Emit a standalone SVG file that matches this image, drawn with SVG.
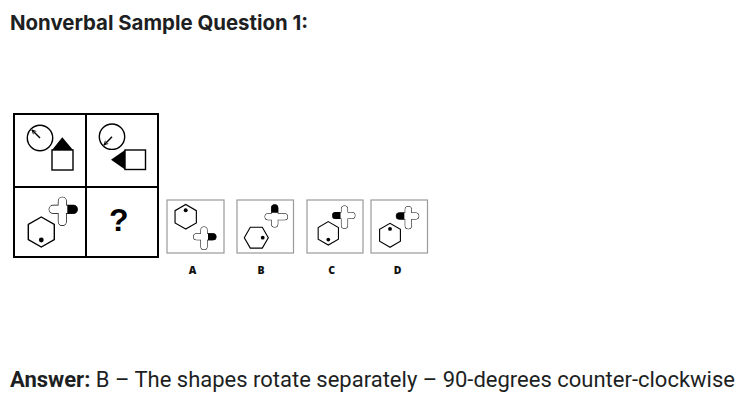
<svg xmlns="http://www.w3.org/2000/svg" width="750" height="406" viewBox="0 0 750 406">
<style>
.title{font-family:Inter,"Liberation Sans",sans-serif;font-weight:700;font-size:20.4px;fill:#1d1f23}
.ans{font-family:Roboto,"Liberation Sans",sans-serif;font-size:22px;fill:#1d1f23}
.lbl{font-family:"Open Sans","Liberation Sans",sans-serif;font-weight:800;font-size:10.5px;fill:#111}
.grid{fill:none;stroke:#000;stroke-width:2}
.opt{fill:#fff;stroke:#9a9a9a;stroke-width:1.2}
.ln{fill:none;stroke:#000;stroke-width:1.4}
.cl{fill:none;stroke:#000;stroke-width:1.3}
.wf{fill:#fff;stroke:none}
.blk{fill:#000;stroke:none}
</style>
<defs>
<marker id="ah" viewBox="0 0 10 10" refX="9" refY="5" markerWidth="5" markerHeight="5" orient="auto" markerUnits="userSpaceOnUse">
<path d="M1,1 L9,5 L1,9" fill="none" stroke="#000" stroke-width="1.6"/>
</marker>
<g id="cross">
<rect x="-3.8" y="-12" width="7.6" height="28" rx="3.8" class="cl"/>
<rect x="-13" y="-3.8" width="28" height="7.6" rx="3.8" class="cl"/>
<rect x="-3.8" y="-12" width="7.6" height="28" rx="3.8" class="wf"/>
<rect x="-13" y="-3.8" width="28" height="7.6" rx="3.8" class="wf"/>
<path d="M5,-4.4 H10.9 A4.4,4.4 0 0 1 10.9,4.4 H5 Z" class="blk"/>
</g>
<g id="hex">
<polygon points="0,-15 13,-7.5 13,7.5 0,15 -13,7.5 -13,-7.5" class="ln" fill="#fff"/>
<circle cx="0" cy="8" r="2.4" class="blk"/>
</g>
</defs>
<rect width="750" height="406" fill="#fff"/>
<text class="title" x="10" y="30">Nonverbal Sample Question 1:</text>

<g id="grid">
<rect x="14" y="114" width="144" height="143" class="grid"/>
<line x1="86" y1="114" x2="86" y2="257" class="grid"/>
<line x1="14" y1="187" x2="158" y2="187" class="grid"/>
</g>

<g id="cell1">
<circle cx="40" cy="138" r="12.7" class="ln"/>
<line x1="40" y1="138" x2="32" y2="130" class="ln" stroke-width="1.2" marker-end="url(#ah)"/>
<polygon points="62.3,137.3 73,150 52,150" class="blk"/>
<rect x="52" y="150" width="21" height="20" class="ln"/>
</g>

<g id="cell2">
<circle cx="112" cy="136.7" r="12.7" class="ln"/>
<line x1="112" y1="136.7" x2="104" y2="145" class="ln" stroke-width="1.2" marker-end="url(#ah)"/>
<polygon points="111,159.7 125,150 125,169.5" class="blk"/>
<rect x="125" y="150" width="20.5" height="19.5" class="ln"/>
</g>

<g id="cell3">
<use href="#hex" transform="translate(41.3,232)"/>
<use href="#cross" transform="translate(62.3,209.3)"/>
</g>

<g id="cell4">
<text x="118.7" y="231" text-anchor="middle" font-family="'Liberation Sans',Arial,sans-serif" font-weight="700" font-size="32" fill="#000">?</text>
</g>

<g id="optA">
<rect x="167" y="200" width="57" height="53" class="opt"/>
<use href="#hex" transform="translate(185.7,216.8) scale(0.82) rotate(180)"/>
<use href="#cross" transform="translate(204,236.7) scale(0.8)"/>
<text class="lbl" x="192.5" y="274" text-anchor="middle">A</text>
</g>

<g id="optB">
<rect x="237" y="200" width="56.5" height="53" class="opt"/>
<use href="#cross" transform="translate(274.7,216.7) scale(0.8) rotate(-90)"/>
<use href="#hex" transform="translate(256.3,237.7) scale(0.8) rotate(-90)"/>
<text class="lbl" x="261" y="274" text-anchor="middle">B</text>
</g>

<g id="optC">
<rect x="307" y="200" width="56" height="53" class="opt"/>
<use href="#cross" transform="translate(344.5,215.5) scale(-0.8,0.8)"/>
<use href="#hex" transform="translate(328.3,233.3) scale(0.78)"/>
<text class="lbl" x="331.7" y="274" text-anchor="middle">C</text>
</g>

<g id="optD">
<rect x="371" y="200" width="56.5" height="53" class="opt"/>
<use href="#cross" transform="translate(408.3,216) scale(-0.8,0.8)"/>
<use href="#hex" transform="translate(390,235.3) scale(0.8) rotate(180)"/>
<text class="lbl" x="397.7" y="274" text-anchor="middle">D</text>
</g>

<text class="ans" x="10" y="387" textLength="725" lengthAdjust="spacingAndGlyphs"><tspan font-weight="700">Answer:</tspan> B – The shapes rotate separately – 90-degrees counter-clockwise</text>
</svg>
